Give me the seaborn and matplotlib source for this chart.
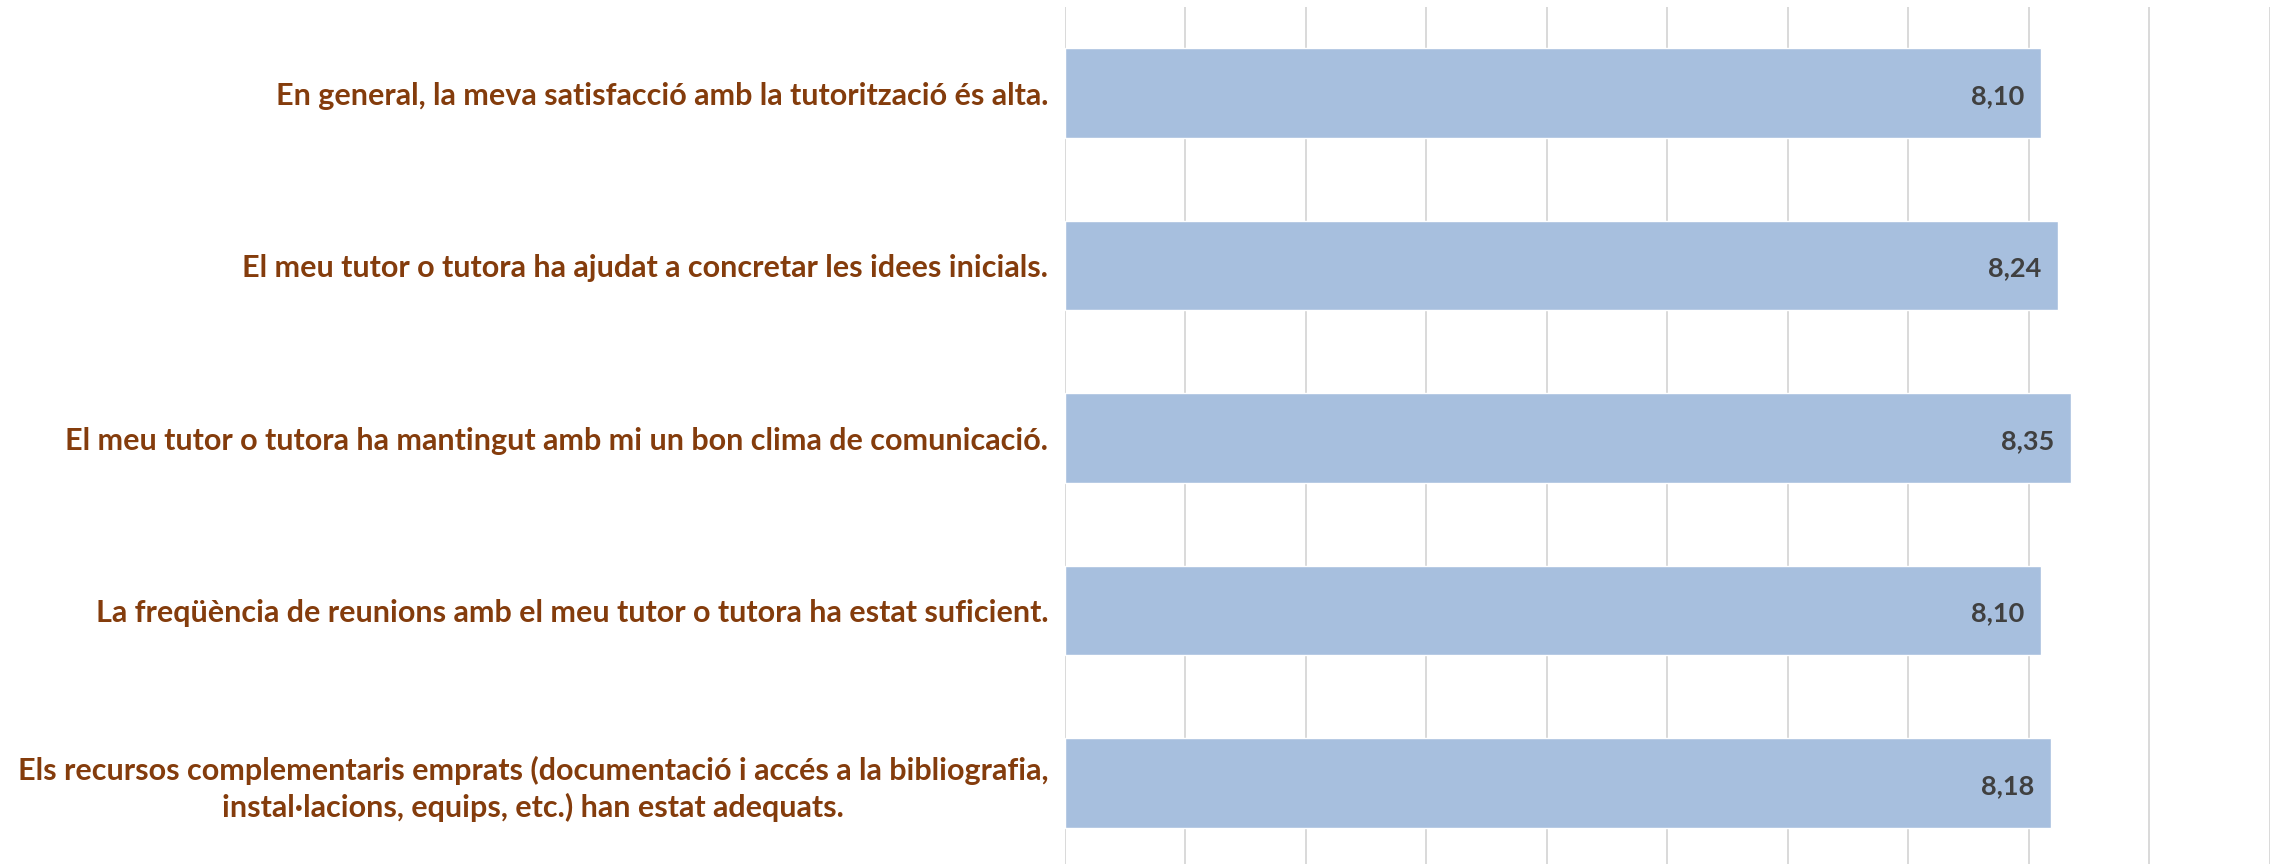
import matplotlib
matplotlib.use("Agg")
import matplotlib.pyplot as plt
import seaborn as sns
import pandas as pd

# --- DONNÉES ---
preguntes = [
    "En general, la meva satisfacció amb la tutorització és alta.",
    "El meu tutor o tutora ha ajudat a concretar les idees inicials.",
    "El meu tutor o tutora ha mantingut amb mi un bon clima de comunicació.",
    "La freqüència de reunions amb el meu tutor o tutora ha estat suficient.",
    "Els recursos complementaris emprats (documentació i accés a la bibliografia,\ninstal·lacions, equips, etc.) han estat adequats.",
]
valors = [8.10, 8.24, 8.35, 8.10, 8.18]
ticks_x = list(range(0, 11))

df = pd.DataFrame({"pregunta": preguntes, "valor": valors})

sns.set_style("white")
plt.rcParams["font.family"] = ["Lato", "DejaVu Sans"]

fig = plt.figure(figsize=(22.77, 8.64), dpi=100)
ax = fig.add_axes([0.4677, -0.006, 0.5292, 0.9979])

sns.barplot(data=df, x="valor", y="pregunta", orient="h", color="#A7BFDE",
            saturation=1, width=0.52, ax=ax, zorder=2)

ax.set_xlim(0, 10)
ax.set_ylim(4.5, -0.5)
ax.set_xticks(ticks_x)
ax.grid(axis="x", color="#D9D9D9", linewidth=1.4, zorder=0)
ax.set_axisbelow(True)
for s in ax.spines.values():
    s.set_visible(False)
ax.set_xlabel("")
ax.set_ylabel("")
ax.tick_params(axis="x", length=0, labelbottom=False)
ax.tick_params(axis="y", length=0, pad=12)
for lbl in ax.get_yticklabels():
    lbl.set_fontsize(22)
    lbl.set_fontweight("bold")
    lbl.set_color("#843C0C")
    lbl.set_multialignment("center")
    lbl.set_linespacing(1.3)

# étiquettes de valeur (format catalan avec virgule)
for patch, v in zip(ax.patches, valors):
    ax.annotate(f"{v:.2f}".replace(".", ","),
                xy=(patch.get_x() + patch.get_width(), patch.get_y() + patch.get_height() / 2),
                xytext=(-12, -2), textcoords="offset points",
                ha="right", va="center", fontsize=19.5, fontweight="bold", color="#404040")

fig.savefig("out.png", dpi=100)
